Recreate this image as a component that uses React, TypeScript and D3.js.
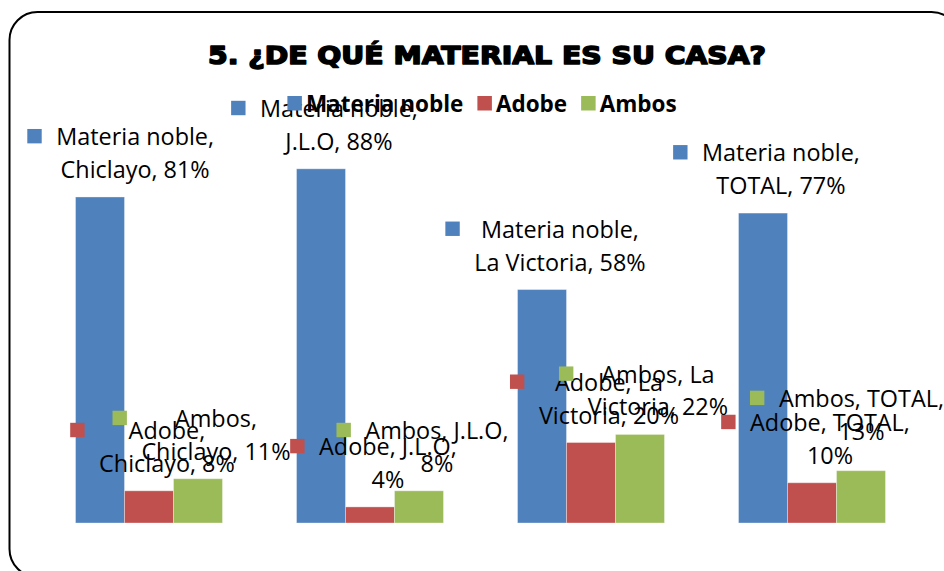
import React, { useEffect, useRef } from 'react';
import * as d3 from 'd3';

const title = '5. ¿DE QUÉ MATERIAL ES SU CASA?';
const categories = ['Chiclayo', 'J.L.O', 'La Victoria', 'TOTAL'];
const seriesNames = ['Materia noble', 'Adobe', 'Ambos'];
const materiaNoble = [81, 88, 58, 77];
const adobe = [8, 4, 20, 10];
const ambos = [11, 8, 22, 13];
const seriesColors = ['#4F81BD', '#C0504D', '#9BBB59'];

const W = 944;
const H = 571;

export default function App() {
  const ref = useRef<SVGSVGElement>(null);

  useEffect(() => {
    const svg = d3.select(ref.current);
    svg.selectAll('*').remove();

    const seriesValues = [materiaNoble, adobe, ambos];
    const series = seriesNames.map((name, i) => ({ name, color: seriesColors[i], values: seriesValues[i] }));

    // frame
    svg.append('rect')
      .attr('x', 9.5).attr('y', 12).attr('width', 950).attr('height', 565)
      .attr('rx', 28).attr('ry', 28)
      .attr('fill', '#fff').attr('stroke', '#000').attr('stroke-width', 2);

    // title
    svg.append('text')
      .attr('x', 487).attr('y', 64)
      .attr('text-anchor', 'middle')
      .attr('font-family', "'DejaVu Sans', sans-serif")
      .attr('font-weight', 'bold')
      .attr('font-size', 25)
      .attr('textLength', 558)
      .attr('lengthAdjust', 'spacingAndGlyphs')
      .attr('fill', '#000')
      .attr('stroke', '#000').attr('stroke-width', 1.6)
      .attr('stroke-linejoin', 'round')
      .text(title);

    const x0 = d3.scaleBand<string>().domain(categories).range([38.5, 922.5]).paddingInner(0.335).paddingOuter(0.1675);
    const x1 = d3.scaleBand<string>().domain(seriesNames).range([0, x0.bandwidth()]).padding(0);
    const y = d3.scaleLinear().domain([0, 100]).range([523, 120.5]);

    // bars
    const gBars = svg.append('g');
    series.forEach((s) => {
      gBars.selectAll(null)
        .data(s.values)
        .enter()
        .append('rect')
        .attr('x', (_, i) => (x0(categories[i]) as number) + (x1(s.name) as number))
        .attr('y', (d) => y(d))
        .attr('width', x1.bandwidth())
        .attr('height', (d) => y(0) - y(d))
        .attr('fill', s.color)
        .attr('stroke', 'rgba(255,255,255,0.35)')
        .attr('stroke-width', 1);
    });

    // data labels
    const fontSize = 23.4;
    const lineH = 32.8;
    const wrapW = 174;
    const mSize = 14.4;
    const mGap = 14.5;
    const leftLimit = 27.3;
    const rightLimit = 944;
    const gLab = svg.append('g')
      .attr('font-family', "'Open Sans', sans-serif")
      .attr('font-size', fontSize)
      .attr('fill', '#000');

    const measurer = svg.append('text')
      .attr('font-family', "'Open Sans', sans-serif")
      .attr('font-size', fontSize)
      .attr('visibility', 'hidden');
    const measure = (t: string) => {
      measurer.text(t);
      return (measurer.node() as SVGTextElement).getComputedTextLength();
    };

    series.forEach((s) => {
      s.values.forEach((v, i) => {
        const label = `${s.name}, ${categories[i]}, ${v}%`;
        const words = label.split(' ');
        const lines: string[] = [];
        let cur = '';
        words.forEach((w) => {
          const test = cur ? cur + ' ' + w : w;
          if (cur && measure(test) > wrapW) {
            lines.push(cur);
            cur = w;
          } else {
            cur = test;
          }
        });
        if (cur) lines.push(cur);
        const maxW = d3.max(lines, (l) => measure(l)) as number;
        const blockW = mSize + mGap + maxW;
        const cx = (x0(categories[i]) as number) + (x1(s.name) as number) + x1.bandwidth() / 2 + 3.5;
        let left = cx - blockW / 2;
        let lifted = false;
        if (left < leftLimit) left = leftLimit;
        if (left + blockW > rightLimit) {
          left = rightLimit - blockW;
          lifted = true;
        }
        const lastBase = y(v) - 19 - (lifted ? 12 : 0);
        const firstBase = lastBase - (lines.length - 1) * lineH;
        const textCx = left + mSize + mGap + maxW / 2;
        gLab.append('rect')
          .attr('x', left)
          .attr('y', firstBase - 9 - mSize / 2)
          .attr('width', mSize)
          .attr('height', mSize)
          .attr('fill', s.color);
        const t = gLab.append('text').attr('text-anchor', 'middle');
        lines.forEach((l, li) => {
          t.append('tspan').attr('x', textCx).attr('y', firstBase + li * lineH).text(l);
        });
      });
    });
    measurer.remove();

    // legend
    const legFont = 22.5;
    const gLeg = svg.append('g')
      .attr('font-family', "'Open Sans', sans-serif")
      .attr('font-weight', 'bold')
      .attr('font-size', legFont);
    const lm = gLeg.append('text').attr('visibility', 'hidden');
    const legW = seriesNames.map((n) => {
      lm.text(n);
      return (lm.node() as SVGTextElement).getComputedTextLength();
    });
    lm.remove();
    const sq = 14.5;
    const sqGap = 4;
    const itemGap = 14;
    const total = d3.sum(legW) + seriesNames.length * (sq + sqGap) + (seriesNames.length - 1) * itemGap;
    let lx = 482 - total / 2;
    series.forEach((s, i) => {
      gLeg.append('rect').attr('x', lx).attr('y', 96).attr('width', sq).attr('height', sq).attr('fill', s.color);
      gLeg.append('text').attr('x', lx + sq + sqGap).attr('y', 111.5).attr('fill', '#000').text(s.name);
      lx += sq + sqGap + legW[i] + itemGap;
    });
  }, []);

  return (
    <svg
      ref={ref}
      width={W}
      height={H}
      viewBox={`0 0 ${W} ${H}`}
      style={{ position: 'absolute', left: 0, top: 0, background: '#fff' }}
    />
  );
}
